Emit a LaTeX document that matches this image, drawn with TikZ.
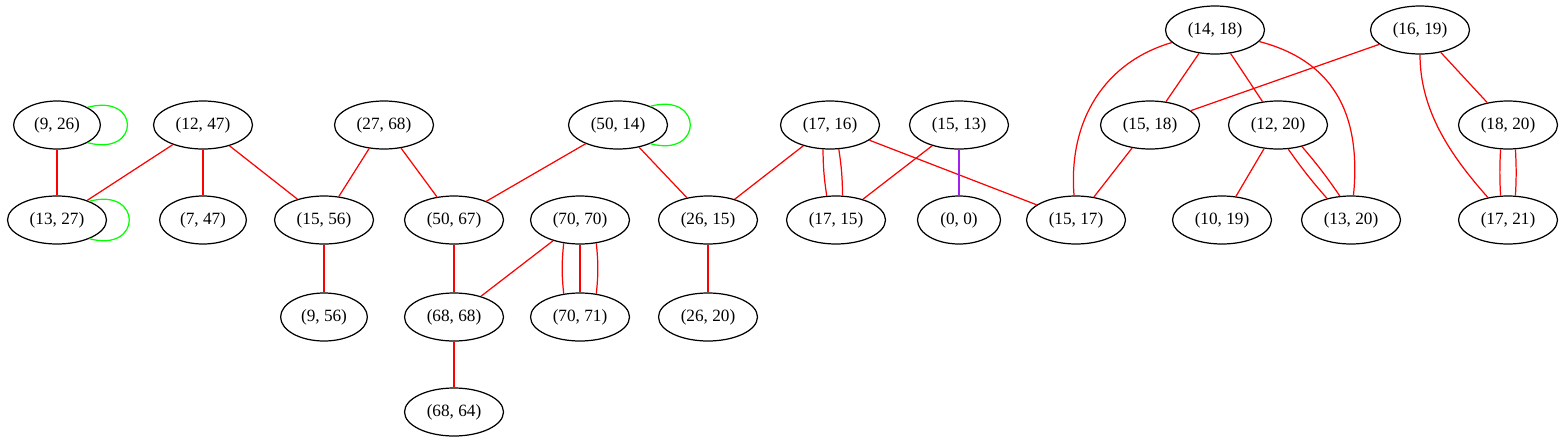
\documentclass[tikz,border=0pt]{standalone}
\usepackage{fontspec}
\setmainfont{Liberation Serif}
\usepackage{tikz}
\usetikzlibrary{shapes.geometric}
\definecolor{edgepurple}{HTML}{A020F0}

\begin{document}
\begin{tikzpicture}[x=0.02cm,y=-0.02cm,
        vertex/.style={draw,ellipse,line width=0.7pt,inner xsep=4.4pt,inner ysep=2pt,
            minimum width=1.66cm,minimum height=0.96cm,font=\fontsize{9.8}{11}\selectfont},
        redge/.style={red,line width=0.7pt},
        gloop/.style={green,line width=0.7pt}]
        \useasboundingbox (0,0) rectangle (1565,443);

        % top row
        \node [vertex] (v14x18) at (1215,30) {(14, 18)};
        \node [vertex] (v16x19) at (1420,30) {(16, 19)};

        % second row
        \node [vertex] (v9x26)  at (57,125)   {(9, 26)};
        \node [vertex] (v12x47) at (203,125)  {(12, 47)};
        \node [vertex] (v27x68) at (384,125)  {(27, 68)};
        \node [vertex] (v50x14) at (618,125)  {(50, 14)};
        \node [vertex] (v17x16) at (830,125)  {(17, 16)};
        \node [vertex] (v15x13) at (959,125)  {(15, 13)};
        \node [vertex] (v15x18) at (1150,125) {(15, 18)};
        \node [vertex] (v12x20) at (1278,125) {(12, 20)};
        \node [vertex] (v18x20) at (1508,125) {(18, 20)};

        % third row
        \node [vertex] (v13x27) at (57,220)   {(13, 27)};
        \node [vertex] (v7x47)  at (203,220)  {(7, 47)};
        \node [vertex] (v15x56) at (324,220)  {(15, 56)};
        \node [vertex] (v50x67) at (454,220)  {(50, 67)};
        \node [vertex] (v70x70) at (580,220)  {(70, 70)};
        \node [vertex] (v26x15) at (708,220)  {(26, 15)};
        \node [vertex] (v17x15) at (836,220)  {(17, 15)};
        \node [vertex] (v0x0)   at (959,220)  {(0, 0)};
        \node [vertex] (v15x17) at (1076,220) {(15, 17)};
        \node [vertex] (v10x19) at (1222,220) {(10, 19)};
        \node [vertex] (v13x20) at (1351,220) {(13, 20)};
        \node [vertex] (v17x21) at (1508,220) {(17, 21)};

        % fourth and fifth row
        \node [vertex] (v9x56)  at (324,317) {(9, 56)};
        \node [vertex] (v68x68) at (454,317) {(68, 68)};
        \node [vertex] (v70x71) at (580,317) {(70, 71)};
        \node [vertex] (v26x20) at (708,317) {(26, 20)};
        \node [vertex] (v68x64) at (454,412) {(68, 64)};

        % loops
        \draw [gloop] (v9x26.30) .. controls +(15:1.1cm) and +(-15:1.1cm) .. (v9x26.-30);
        \draw [gloop] (v13x27.30) .. controls +(15:1.1cm) and +(-15:1.1cm) .. (v13x27.-30);
        \draw [gloop] (v50x14.30) .. controls +(15:1.1cm) and +(-15:1.1cm) .. (v50x14.-30);

        % single edges
        \draw [redge] (v9x26)--(v13x27);
        \draw [redge] (v12x47)--(v13x27);
        \draw [redge] (v12x47)--(v7x47);
        \draw [redge] (v12x47)--(v15x56);
        \draw [redge] (v27x68)--(v15x56);
        \draw [redge] (v27x68)--(v50x67);
        \draw [redge] (v15x56)--(v9x56);
        \draw [redge] (v50x14)--(v50x67);
        \draw [redge] (v50x14)--(v26x15);
        \draw [redge] (v50x67)--(v68x68);
        \draw [redge] (v70x70)--(v68x68);
        \draw [redge] (v68x68)--(v68x64);
        \draw [redge] (v26x15)--(v26x20);
        \draw [redge] (v17x16)--(v26x15);
        \draw [redge] (v17x16)--(v15x17);
        \draw [redge] (v15x13)--(v17x15);
        \draw [edgepurple,line width=0.7pt] (v15x13)--(v0x0);
        \draw [redge] (v14x18)--(v15x18);
        \draw [redge] (v14x18)--(v12x20);
        \draw [redge] (v16x19)--(v15x18);
        \draw [redge] (v16x19)--(v18x20);
        \draw [redge] (v15x18)--(v15x17);
        \draw [redge] (v12x20)--(v10x19);

        % curved edges
        \draw [redge] (v14x18) .. controls (1105,62) and (1068,120) .. (v15x17);
        \draw [redge] (v14x18) .. controls (1330,60) and (1362,110) .. (v13x20);
        \draw [redge] (v16x19) .. controls (1420,110) and (1450,155) .. (v17x21);

        % multiple edges
        \draw [redge] (v70x70.-125) to [bend right=6] (v70x71.125);
        \draw [redge] (v70x70)--(v70x71);
        \draw [redge] (v70x70.-55) to [bend left=6] (v70x71.55);
        \draw [redge] (v17x16.-106) to [bend right=4] (v17x15.111);
        \draw [redge] (v17x16.-70) to [bend left=4] (v17x15.75);
        \draw [redge] (v12x20.-67) to [bend right=3] (v13x20.138);
        \draw [redge] (v12x20.-42) to [bend left=3] (v13x20.115);
        \draw [redge] (v18x20.-107) to [bend right=3] (v17x21.107);
        \draw [redge] (v18x20.-73) to [bend left=3] (v17x21.73);
\end{tikzpicture}
\end{document}
